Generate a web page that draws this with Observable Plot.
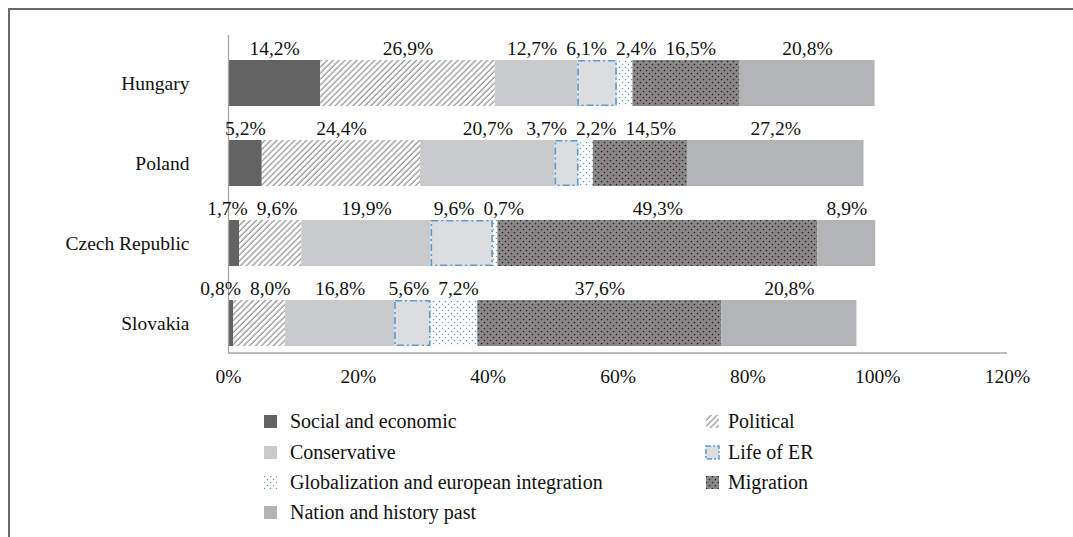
<!DOCTYPE html>
<html>
<head>
<meta charset="utf-8">
<script src="https://cdn.jsdelivr.net/npm/d3@7"></script>
<script src="https://cdn.jsdelivr.net/npm/@observablehq/plot@0.6"></script>
<style>
  html, body { margin: 0; padding: 0; background: #fff; }
  #wrap { position: relative; width: 1073px; height: 537px; overflow: hidden; font-family: "Liberation Serif", "Times New Roman", serif; color: #111; }
  #frame { position: absolute; left: 8px; top: 8px; width: 1100px; height: 600px; border-top: 2px solid #6a6a6a; border-left: 2px solid #6a6a6a; box-sizing: border-box; }
  #chart { position: absolute; left: 0; top: 0; }
  .lg { position: absolute; font-size: 20px; line-height: 22px; white-space: nowrap; }
  .lg svg { position: absolute; left: 0; top: 0; }
  .lg span { position: absolute; top: -11px; }
</style>
</head>
<body>
<div id="wrap">
  <div id="frame"></div>
  <div id="chart"></div>
  <div id="legend"></div>
</div>
<script>
// ---- data ----
const countries = ["Hungary", "Poland", "Czech Republic", "Slovakia"];
const categories = [
  "Social and economic",
  "Political",
  "Conservative",
  "Life of ER",
  "Globalization and european integration",
  "Migration",
  "Nation and history past"
];
const socialEconomic = [14.2, 5.2, 1.7, 0.8];
const political      = [26.9, 24.4, 9.6, 8.0];
const conservative   = [12.7, 20.7, 19.9, 16.8];
const lifeOfER       = [6.1, 3.7, 9.6, 5.6];
const globalization  = [2.4, 2.2, 0.7, 7.2];
const migration      = [16.5, 14.5, 49.3, 37.6];
const nationHistory  = [20.8, 27.2, 8.9, 20.8];
const xTicks = [0, 20, 40, 60, 80, 100, 120];

// ---- styles ----
const series = [socialEconomic, political, conservative, lifeOfER, globalization, migration, nationHistory];
const fills = ["#636363", "url(#pHatch)", "#c9cacb", "#dcdddf", "url(#pBlueDots)", "url(#pDarkDots)", "#b3b4b6"];
const LABEL_FONT = "19.5px 'Liberation Serif'";

// ---- build rows (cumulative stack) ----
const rows = [];
countries.forEach((c, i) => {
  let acc = 0;
  categories.forEach((cat, j) => {
    const v = series[j][i];
    rows.push({country: c, category: cat, value: v, x1: acc, x2: acc + v,
               label: v.toFixed(1).replace(".", ",") + "%"});
    acc += v;
  });
});

// ---- layout ----
const W = 1073, H = 400;
const mL = 228, mR = 66, mT = 35, mB = 47;
const pxPerUnit = (W - mL - mR) / 120;

// label positions: segment centers, with simple overlap resolution
const ctx = document.createElement("canvas").getContext("2d");
ctx.font = LABEL_FONT;
const gap = 9;
countries.forEach(c => {
  const ls = rows.filter(r => r.country === c);
  ls.forEach(r => { r.lx = (r.x1 + r.x2) / 2; r.w = ctx.measureText(r.label).width / pxPerUnit; });
  for (let pass = 0; pass < 20; pass++) {
    for (let k = 1; k < ls.length; k++) {
      const a = ls[k - 1], b = ls[k];
      const need = (a.w + b.w) / 2 + gap / pxPerUnit;
      const d = b.lx - a.lx;
      if (d < need) { const s = (need - d) / 2; a.lx -= s; b.lx += s; }
    }
  }
});

const chart = Plot.plot({
  width: W, height: H,
  marginLeft: mL, marginRight: mR, marginTop: mT, marginBottom: mB,
  style: {fontFamily: "'Liberation Serif', 'Times New Roman', serif", fontSize: "19.5px", color: "#111", background: "transparent", overflow: "visible"},
  x: {domain: [0, 120], ticks: xTicks, tickFormat: d => d + "%", tickSize: 0, tickPadding: 16, label: null},
  y: {domain: countries, range: [41, 364.5], paddingInner: 0.43, paddingOuter: 0.215, tickSize: 0, tickPadding: 39, label: null},
  color: {domain: categories, range: fills},
  marks: [
    Plot.barX(rows, {y: "country", x1: "x1", x2: "x2", fill: "category"}),
    Plot.barX(rows.filter(r => r.category === "Life of ER"), {
      y: "country", x1: "x1", x2: "x2", fill: "none",
      stroke: "#5b9bd5", strokeWidth: 1.6, strokeDasharray: "7,3,2,3",
      insetLeft: 0.8, insetRight: 0.8, insetTop: 0.8, insetBottom: 0.8
    }),
    Plot.ruleX([0], {stroke: "#a6a6a6", strokeWidth: 1.3}),
    Plot.text(rows, {x: "lx", y: "country", text: "label", dy: -34.5, fill: "#111", textAnchor: "middle"})
  ]
});

// pattern definitions
const defs = `
<defs>
  <pattern id="pHatch" patternUnits="userSpaceOnUse" width="4.2" height="4.2" patternTransform="rotate(45)">
    <rect width="4.2" height="4.2" fill="#ffffff"/>
    <line x1="1" y1="0" x2="1" y2="4.2" stroke="#7a7a7a" stroke-width="1"/>
  </pattern>
  <pattern id="pBlueDots" patternUnits="userSpaceOnUse" width="6" height="6">
    <rect width="6" height="6" fill="#ffffff"/>
    <circle cx="1.5" cy="1.5" r="0.75" fill="#5b9bd5"/>
    <circle cx="4.5" cy="4.5" r="0.75" fill="#5b9bd5"/>
  </pattern>
  <pattern id="pDarkDots" patternUnits="userSpaceOnUse" width="6" height="6">
    <rect width="6" height="6" fill="#8a8787"/>
    <circle cx="1.5" cy="1.5" r="0.85" fill="#262626"/>
    <circle cx="4.5" cy="4.5" r="0.85" fill="#262626"/>
  </pattern>
</defs>`;
chart.insertAdjacentHTML("afterbegin", defs);

// bottom axis line from the x scale
const xs = chart.scale("x");
const ns = "http://www.w3.org/2000/svg";
const ln = document.createElementNS(ns, "line");
ln.setAttribute("x1", xs.apply(0));
ln.setAttribute("x2", xs.apply(120));
ln.setAttribute("y1", H - mB);
ln.setAttribute("y2", H - mB);
ln.setAttribute("stroke", "#a6a6a6");
ln.setAttribute("stroke-width", "1.3");
chart.appendChild(ln);

document.getElementById("chart").appendChild(chart);

// ---- legend (2 columns, row-major) ----
const legend = document.getElementById("legend");
const colMarkerX = [264, 706];
const colTextX = [290, 728];
const rowY = [421, 452, 482, 512];
categories.forEach((cat, j) => {
  const col = j % 2, row = Math.floor(j / 2);
  const item = document.createElement("div");
  item.className = "lg";
  item.style.left = colMarkerX[col] + "px";
  item.style.top = rowY[row] + "px";
  const s = 13;
  let sw = `<svg width="${s + 2}" height="${s + 2}" style="top:${-s / 2 - 1}px;left:-1px;overflow:visible">
    <rect x="1" y="1" width="${s}" height="${s}" fill="${fills[j]}"`;
  if (cat === "Life of ER") sw += ` stroke="#5b9bd5" stroke-width="1.5" stroke-dasharray="5,2,2,2"`;
  sw += `/></svg>`;
  item.innerHTML = sw + `<span style="left:${colTextX[col] - colMarkerX[col]}px">${cat}</span>`;
  legend.appendChild(item);
});
</script>
</body>
</html>
